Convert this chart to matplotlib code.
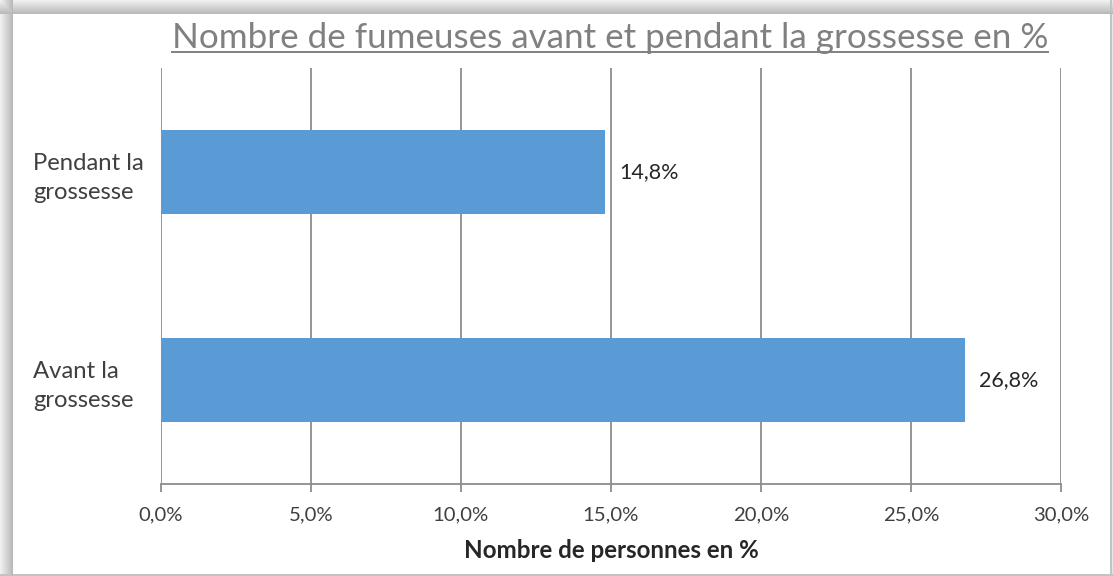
import numpy as np
import matplotlib
matplotlib.use("Agg")
import matplotlib.pyplot as plt
from matplotlib.lines import Line2D

categories = ["Avant la\ngrossesse", "Pendant la\ngrossesse"]
values = [26.8, 14.8]
value_labels = ["26,8%", "14,8%"]
xticks = [0, 5, 10, 15, 20, 25, 30]
xtick_labels = ["0,0%", "5,0%", "10,0%", "15,0%", "20,0%", "25,0%", "30,0%"]
title = "Nombre de fumeuses avant et pendant la grossesse en %"
xlabel = "Nombre de personnes en %"

plt.rcParams['font.family'] = ['Lato', 'DejaVu Sans']
W, H = 1113, 576
fig = plt.figure(figsize=(W / 100, H / 100), dpi=100)
fig.patch.set_facecolor('white')

# frame with shadow (left/top) and thin border (right/bottom)
img = np.full((H, W), 255.0)
xs = np.arange(W)
ys = np.arange(H)
left = np.where(xs < 13, 240 - (240 - 185) * xs / 12.0, 255)
top = np.where(ys < 14, 240 - (240 - 185) * ys / 13.0, 255)
img = np.minimum(img, left[None, :])
img = np.minimum(img, top[:, None])
img[:, 1110:1112] = np.minimum(img[:, 1110:1112], 195)
img[:, 1112:] = np.minimum(img[:, 1112:], 230)
img[574:576, :] = np.minimum(img[574:576, :], 195)
fig.figimage(img, cmap='gray', vmin=0, vmax=255, origin='upper', zorder=-10)

ax = fig.add_axes([161 / W, 1 - 484 / H, 900 / W, 416 / H], zorder=2)
ax.set_facecolor('none')
ypos = np.arange(len(categories))
bars = ax.barh(ypos, values, height=0.4, color='#5B9BD5', zorder=3)
ax.set_xlim(0, 30)
ax.set_ylim(-0.5, len(categories) - 0.5)
ax.set_xticks(xticks)
ax.set_xticklabels(xtick_labels, fontsize=14.6, color='#404040')
ax.set_yticks(ypos)
ax.set_yticklabels(categories, fontsize=17.2, color='#404040', ha='left',
                   linespacing=1.45, multialignment='left')
ax.tick_params(axis='y', length=0, pad=92)
ax.tick_params(axis='x', length=6, width=1.3, color='#8c8c8c', pad=10)
ax.grid(axis='x', color='#8c8c8c', linewidth=1.3, zorder=1)
for s in ['top', 'right', 'left']:
    ax.spines[s].set_visible(False)
ax.spines['bottom'].set_color('#8c8c8c')
ax.spines['bottom'].set_linewidth(1.3)
ax.set_xlabel(xlabel, fontsize=17.4, fontweight='bold', color='#262626', labelpad=11)

for b, lab in zip(bars, value_labels):
    ax.annotate(lab, xy=(b.get_width(), b.get_y() + b.get_height() / 2),
                xytext=(10, 0), textcoords='offset points', ha='left', va='center',
                fontsize=15.5, color='#262626')

t = fig.text(610 / W, 1 - 38 / H, title, ha='center', va='center', fontsize=25.2,
             color='#808080')
fig.canvas.draw()
bb = t.get_window_extent(renderer=fig.canvas.get_renderer())
uy = 1 - 52 / H
fig.add_artist(Line2D([bb.x0 / W, bb.x1 / W], [uy, uy], transform=fig.transFigure,
                      color='#808080', linewidth=1.4))

fig.savefig('out.png', dpi=100)
